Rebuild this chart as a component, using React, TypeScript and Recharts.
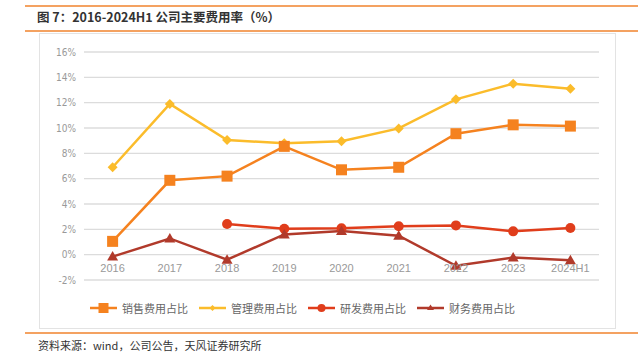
import { LineChart, Line, XAxis, YAxis, CartesianGrid } from "recharts";

const years = ["2016", "2017", "2018", "2019", "2020", "2021", "2022", "2023", "2024H1"];
const salesRate = [1.05, 5.87, 6.2, 8.55, 6.7, 6.9, 9.55, 10.25, 10.15];
const adminRate = [6.9, 11.9, 9.05, 8.8, 8.95, 9.97, 12.26, 13.5, 13.1];
const rdRate = [null, null, 2.42, 2.05, 2.08, 2.24, 2.31, 1.84, 2.1];
const financeRate = [-0.15, 1.28, -0.4, 1.6, 1.87, 1.5, -0.88, -0.22, -0.45];
const yTicks = [-2, 0, 2, 4, 6, 8, 10, 12, 14, 16];

const data = years.map((year, i) => ({
  year,
  sales: salesRate[i],
  admin: adminRate[i],
  rd: rdRate[i],
  finance: financeRate[i],
}));

const ORANGE = "#f5821f";
const YELLOW = "#fbbc2b";
const RED = "#e03d1b";
const DARK_RED = "#b13a2b";
const RULE = "#f4a261";

const cjk = '"Noto Sans CJK SC", "Noto Sans", sans-serif';

type DotProps = { cx?: number; cy?: number; index?: number; value?: number | null };

const SquareDot = ({ cx, cy, index, value }: DotProps) =>
  value == null || cx == null || cy == null ? (
    <g key={index} />
  ) : (
    <rect key={index} x={cx - 5.5} y={cy - 5.5} width={11} height={11} fill={ORANGE} />
  );

const DiamondDot = ({ cx, cy, index, value }: DotProps) =>
  value == null || cx == null || cy == null ? (
    <g key={index} />
  ) : (
    <path key={index} d={`M${cx},${cy - 5}L${cx + 5},${cy}L${cx},${cy + 5}L${cx - 5},${cy}Z`} fill={YELLOW} />
  );

const CircleDot = ({ cx, cy, index, value }: DotProps) =>
  value == null || cx == null || cy == null ? (
    <g key={index} />
  ) : (
    <circle key={index} cx={cx} cy={cy} r={5} fill={RED} />
  );

const TriangleDot = ({ cx, cy, index, value }: DotProps) =>
  value == null || cx == null || cy == null ? (
    <g key={index} />
  ) : (
    <path key={index} d={`M${cx},${cy - 5.5}L${cx + 5.5},${cy + 4}L${cx - 5.5},${cy + 4}Z`} fill={DARK_RED} />
  );

// labels sit just under the 0% line, like Excel's axis crossing at zero
const XTick = ({ x, y, payload }: any) => (
  <text x={x} y={y - 16} textAnchor="middle" fill="#999" fontSize={11} fontFamily="'Liberation Sans', Arial, sans-serif">
    {payload.value}
  </text>
);

const legendItems = [
  { label: "销售费用占比", color: ORANGE, shape: "square" },
  { label: "管理费用占比", color: YELLOW, shape: "diamond" },
  { label: "研发费用占比", color: RED, shape: "circle" },
  { label: "财务费用占比", color: DARK_RED, shape: "triangle" },
];

function LegendIcon({ color, shape }: { color: string; shape: string }) {
  return (
    <svg width={27} height={12}>
      <line x1={0} y1={6} x2={27} y2={6} stroke={color} strokeWidth={2.5} />
      {shape === "square" && <rect x={8.5} y={1} width={10} height={10} fill={color} />}
      {shape === "diamond" && <path d="M13.5,3L16.5,6L13.5,9L10.5,6Z" fill={color} />}
      {shape === "circle" && <circle cx={13.5} cy={6} r={4} fill={color} />}
      {shape === "triangle" && <path d="M13.5,2.5L17,8L10,8Z" fill={color} />}
    </svg>
  );
}

export default function App() {
  return (
    <div style={{ position: "absolute", left: 0, top: 0, width: 638, height: 352, background: "#fff", overflow: "hidden" }}>
      <div style={{ position: "absolute", left: 25, top: 5, width: 613, height: 2, background: RULE }} />
      <div
        style={{
          position: "absolute",
          left: 37,
          top: 8,
          fontFamily: cjk,
          fontWeight: 700,
          fontSize: 12.5,
          color: "#333",
          lineHeight: "18px",
        }}
      >
        图 7：2016-2024H1 公司主要费用率（%）
      </div>
      <div style={{ position: "absolute", left: 25, top: 30, width: 613, height: 2, background: RULE }} />

      <div
        style={{
          position: "absolute",
          left: 39,
          top: 33,
          width: 577,
          height: 296,
          border: "1px solid #e3e3e3",
          boxSizing: "border-box",
        }}
      />
      <div style={{ position: "absolute", left: 40, top: 34 }}>
        <LineChart width={577} height={296} data={data} margin={{ top: 18, right: 18, left: 0, bottom: 0 }}>
          <CartesianGrid vertical={false} stroke="#dcdcdc" strokeWidth={1.3} />
          <XAxis
            dataKey="year"
            scale="band"
            axisLine={false}
            tickLine={false}
            height={50}
            tick={<XTick />}
            interval={0}
          />
          <YAxis
            width={44}
            domain={[-2, 16]}
            ticks={yTicks}
            axisLine={false}
            tickLine={false}
            tickFormatter={(v) => `${v}%`}
            tick={{ fill: "#999", fontSize: 10, fontFamily: "'DejaVu Sans Condensed', 'Liberation Sans', sans-serif" }}
          />
          <Line dataKey="admin" stroke={YELLOW} strokeWidth={2.5} dot={<DiamondDot />} isAnimationActive={false} />
          <Line dataKey="sales" stroke={ORANGE} strokeWidth={2.5} dot={<SquareDot />} isAnimationActive={false} />
          <Line dataKey="rd" stroke={RED} strokeWidth={2.5} dot={<CircleDot />} isAnimationActive={false} />
          <Line dataKey="finance" stroke={DARK_RED} strokeWidth={2.5} dot={<TriangleDot />} isAnimationActive={false} />
        </LineChart>
      </div>

      <div style={{ position: "absolute", left: 90, top: 300, display: "flex", alignItems: "center", gap: 11 }}>
        {legendItems.map((item) => (
          <div key={item.label} style={{ display: "flex", alignItems: "center", gap: 5 }}>
            <LegendIcon color={item.color} shape={item.shape} />
            <span style={{ fontFamily: cjk, fontSize: 11, color: "#666", lineHeight: "16px" }}>{item.label}</span>
          </div>
        ))}
      </div>

      <div style={{ position: "absolute", left: 25, top: 332, width: 613, height: 2, background: RULE }} />
      <div
        style={{
          position: "absolute",
          left: 38,
          top: 339,
          fontFamily: cjk,
          fontSize: 11,
          color: "#333",
          lineHeight: "13px",
        }}
      >
        资料来源：wind，公司公告，天风证券研究所
      </div>
    </div>
  );
}
